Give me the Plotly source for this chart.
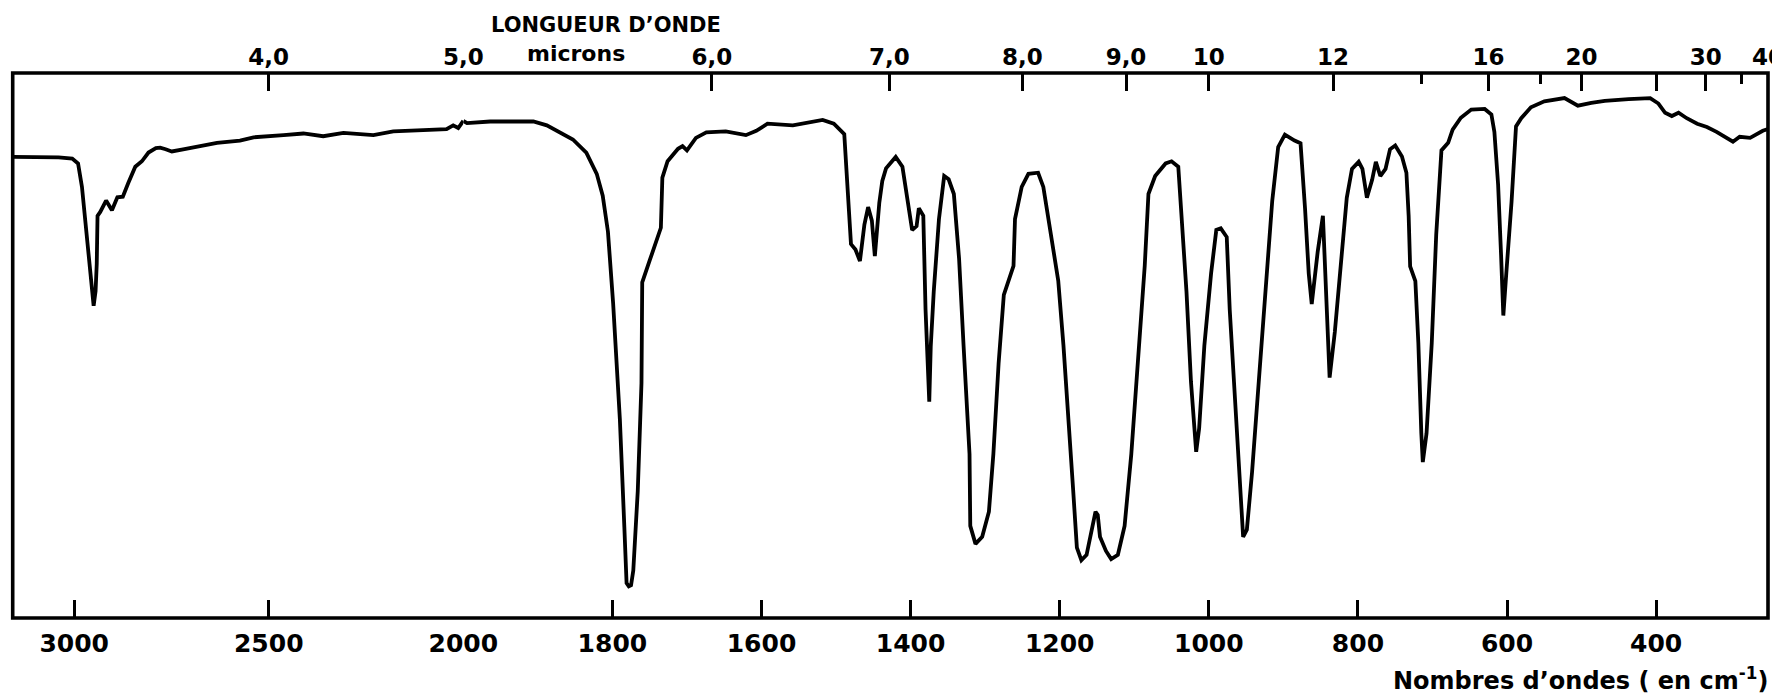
import plotly.graph_objects as go

# ---- data (wavenumber in cm-1, % of frame height) ----
wavenumbers = [
    3158, 3100, 3040, 3005, 2990, 2980, 2970, 2963, 2955, 2950, 2945, 2942, 2940,
    2933, 2918, 2903, 2889, 2875, 2861, 2843, 2826, 2809, 2790, 2779, 2765, 2749,
    2720, 2694, 2633, 2574, 2539, 2462, 2411, 2360, 2308, 2231, 2180, 2103, 2043,
    2026, 2013, 2000,
    1995, 1964, 1906, 1888, 1875, 1853, 1835, 1821, 1813, 1806, 1799, 1790, 1784,
    1781, 1778, 1775, 1772, 1766, 1761, 1760, 1750, 1739, 1735, 1733, 1726, 1712,
    1706, 1700, 1688, 1674, 1648, 1621, 1607, 1592, 1558, 1518, 1503, 1489, 1485,
    1480, 1474, 1468, 1462, 1457, 1452, 1448, 1442, 1438, 1433, 1420, 1411, 1404,
    1398, 1392, 1389, 1383, 1380, 1375, 1373, 1369, 1362, 1355, 1349, 1342, 1335,
    1329, 1324, 1321, 1320, 1313, 1304, 1295, 1289, 1282, 1275, 1269, 1262, 1260,
    1251, 1242, 1229, 1222, 1211, 1202, 1195, 1188, 1182, 1177, 1171, 1164, 1157,
    1152, 1149, 1146, 1138, 1131, 1122, 1113, 1104, 1095, 1086, 1081, 1072, 1058,
    1050, 1041, 1037, 1030, 1024, 1017, 1013, 1006, 997, 990, 984, 976, 972, 965,
    958, 954, 949, 942, 933, 924, 915, 907, 898, 885, 877, 871, 866, 862, 854,
    847, 844, 838, 831, 822, 815, 808, 799, 794, 788, 781, 776, 770, 763, 757,
    750, 741, 735, 732, 730, 723, 719, 715, 713, 708, 701, 695, 688, 679, 673,
    662, 648, 630, 621, 617, 612, 608, 605, 601, 594, 588, 581, 568, 550, 523,
    515, 505, 487, 469, 437, 408, 397, 388, 379, 370, 359, 345, 332, 319, 297,
    288, 274, 257, 250,
]
transmittance = [
    84.6, 84.6, 84.5, 84.3, 83.4, 79.1, 72.0, 67.2, 60.0, 57.3, 60.0, 65.0, 73.8,
    74.5, 76.6, 74.8, 77.2, 77.3, 79.8, 82.8, 83.8, 85.4, 86.2, 86.3, 86.0, 85.6,
    86.0, 86.4, 87.2, 87.6, 88.2, 88.6, 88.9, 88.4, 89.0, 88.6, 89.3, 89.5, 89.7,
    90.4, 89.9, 91.2,
    90.8, 91.1, 91.1, 90.4, 89.4, 87.8, 85.4, 81.5, 77.5, 70.9, 57.7, 36.5, 16.7,
    6.4, 5.8, 6.0, 8.7, 23.3, 43.1, 61.6, 65.6, 69.9, 71.6, 80.8, 83.8, 86.1,
    86.6, 85.8, 88.1, 89.1, 89.3, 88.6, 89.4, 90.7, 90.4, 91.4, 90.7, 88.8, 79.5,
    68.6, 67.6, 65.5, 72.2, 75.4, 72.9, 66.4, 76.2, 80.2, 82.5, 84.6, 82.8, 76.5,
    71.2, 71.9, 75.2, 73.8, 56.6, 39.7, 49.9, 59.9, 73.2, 81.1, 80.5, 77.8, 65.9,
    50.0, 35.4, 30.1, 16.9, 13.6, 14.9, 19.5, 30.1, 46.7, 59.3, 61.9, 64.6, 73.2,
    79.1, 81.5, 81.7, 79.1, 69.9, 61.9, 50.0, 36.8, 23.5, 12.9, 10.6, 11.6, 16.2,
    19.5, 18.9, 14.9, 12.3, 10.8, 11.6, 16.9, 30.1, 46.7, 64.6, 77.8, 81.1, 83.4,
    83.8, 82.8, 75.2, 59.9, 43.4, 30.5, 34.8, 50.0, 63.2, 71.2, 71.5, 69.9, 56.6, 40.1,
    23.5, 14.9, 16.2, 26.8, 43.4, 59.9, 76.5, 86.4, 88.7, 87.6, 87.1, 75.2, 63.2, 57.6, 67.2,
    73.8, 63.5, 44.1, 52.5, 67.1, 77.1, 82.4, 83.7, 82.4, 77.1, 80.4, 83.7, 81.1, 82.4, 86.0,
    86.7, 84.7, 81.7, 73.8, 64.5, 61.8, 50.5, 33.9, 28.6, 33.9, 50.5, 70.4, 85.8, 87.2, 89.6,
    91.8, 93.3, 93.4, 92.4, 89.2, 79.5, 66.5, 55.5, 63.3, 76.3, 90.2, 91.7, 93.7, 94.8, 95.4,
    94.7, 94.0, 94.5, 94.9, 95.2, 95.4, 94.4, 92.7, 92.1, 92.7, 91.7, 90.7, 90.1, 89.2, 87.4,
    88.3, 88.1, 89.4, 89.7,
]

# axis scale: the region above 2000 cm-1 is drawn at half scale
WN_LEFT_EDGE = 3158
WN_BREAK = 2000
WN_RIGHT_EDGE = 250

bottom_ticks_left = [3000, 2500]
bottom_ticks_right = [2000, 1800, 1600, 1400, 1200, 1000, 800, 600, 400]

micron_values = [4, 5, 6, 7, 8, 9, 10, 12, 16, 20, 25, 30, 40]
micron_labels = ["4,0", "5,0", "6,0", "7,0", "8,0", "9,0", "10", "12", "16", "20", "", "30", "40"]
micron_minor = [14, 18, 35]

# ---- layout geometry (pixels of the 1772x696 page) ----
W, H = 1772, 696
X_LEFT, X_BREAK, X_RIGHT = 12.7, 463.3, 1768.0
TOP, BOTTOM = 73, 618
PLOT_H = BOTTOM - TOP

d0, d1, d2 = X_LEFT / W, X_BREAK / W, X_RIGHT / W

left_x = [w for w in wavenumbers if w >= WN_BREAK]
left_y = [t for w, t in zip(wavenumbers, transmittance) if w >= WN_BREAK]
right_x = [w for w in wavenumbers if w <= WN_BREAK]
right_y = [t for w, t in zip(wavenumbers, transmittance) if w <= WN_BREAK]

line = dict(color="black", width=3.8, shape="linear")

fig = go.Figure()
fig.add_trace(go.Scatter(x=left_x, y=left_y, mode="lines", line=line,
                         xaxis="x", yaxis="y", showlegend=False, hoverinfo="skip"))
fig.add_trace(go.Scatter(x=right_x, y=right_y, mode="lines", line=line,
                         xaxis="x2", yaxis="y", showlegend=False, hoverinfo="skip"))
# empty traces so the top (micron) axes exist
fig.add_trace(go.Scatter(x=[None], y=[None], xaxis="x3", yaxis="y", showlegend=False))
fig.add_trace(go.Scatter(x=[None], y=[None], xaxis="x4", yaxis="y", showlegend=False))

tick_font = dict(family="DejaVu Sans", size=25, color="black", weight="bold")
top_font = dict(family="DejaVu Sans", size=23, color="black", weight="bold")

top_wn = [1e4 / m for m in micron_values]
top_left_vals = [v for v in top_wn if v > WN_BREAK + 1]
top_left_text = [t for v, t in zip(top_wn, micron_labels) if v > WN_BREAK + 1]
top_right_vals = [v for v in top_wn if v <= WN_BREAK + 1]
top_right_text = [t for v, t in zip(top_wn, micron_labels) if v <= WN_BREAK + 1]
minor_wn = [1e4 / m for m in micron_minor]

common = dict(showgrid=False, zeroline=False, showline=False, ticks="inside",
              ticklen=18, tickwidth=2.6, tickcolor="black", tickmode="array",
              autorange=False, fixedrange=True, automargin=False,
              ticklabeloverflow="allow")

fig.update_layout(
    width=W, height=H,
    margin=dict(l=0, r=0, t=TOP, b=H - BOTTOM, pad=0, autoexpand=False),
    paper_bgcolor="white", plot_bgcolor="white",
    xaxis=dict(domain=[d0, d1], range=[WN_LEFT_EDGE, WN_BREAK], anchor="y",
               tickvals=bottom_ticks_left, ticktext=[str(v) for v in bottom_ticks_left],
               tickfont=tick_font, ticklabelstandoff=8, **common),
    xaxis2=dict(domain=[d1, d2], range=[WN_BREAK, WN_RIGHT_EDGE], anchor="y",
                tickvals=bottom_ticks_right, ticktext=[str(v) for v in bottom_ticks_right],
                tickfont=tick_font, ticklabelstandoff=8, **common),
    xaxis3=dict(overlaying="x", side="top", range=[WN_LEFT_EDGE, WN_BREAK], anchor="y",
                tickvals=top_left_vals, ticktext=top_left_text,
                tickfont=top_font, ticklabelstandoff=2, **common),
    xaxis4=dict(overlaying="x2", side="top", range=[WN_BREAK, WN_RIGHT_EDGE], anchor="y",
                tickvals=top_right_vals, ticktext=top_right_text,
                tickfont=top_font, ticklabelstandoff=2,
                minor=dict(tickmode="array", tickvals=minor_wn, ticks="inside",
                           ticklen=11, tickwidth=2.6, tickcolor="black", showgrid=False),
                **common),
    yaxis=dict(domain=[0, 1], range=[0, 100], visible=False, fixedrange=True),
    shapes=[dict(type="rect", xref="paper", yref="paper", x0=d0, x1=d2, y0=0, y1=1,
                 line=dict(color="black", width=3.6), layer="above")],
    annotations=[
        dict(text="LONGUEUR D’ONDE", xref="paper", yref="paper",
             x=606 / W, y=(BOTTOM - 25) / PLOT_H, xanchor="center", yanchor="middle",
             showarrow=False, font=dict(family="DejaVu Sans", size=21, color="black", weight="bold")),
        dict(text="microns", xref="paper", yref="paper",
             x=576 / W, y=(BOTTOM - 53) / PLOT_H, xanchor="center", yanchor="middle",
             showarrow=False, font=dict(family="DejaVu Sans", size=22, color="black", weight="bold")),
        dict(text="Nombres d’ondes ( en cm<sup>-1</sup>)", xref="paper", yref="paper",
             x=1770 / W, y=(BOTTOM - 679) / PLOT_H, xanchor="right", yanchor="middle",
             showarrow=False, font=dict(family="DejaVu Sans", size=24, color="black", weight="bold")),
    ],
)

fig.write_html("out.html")
